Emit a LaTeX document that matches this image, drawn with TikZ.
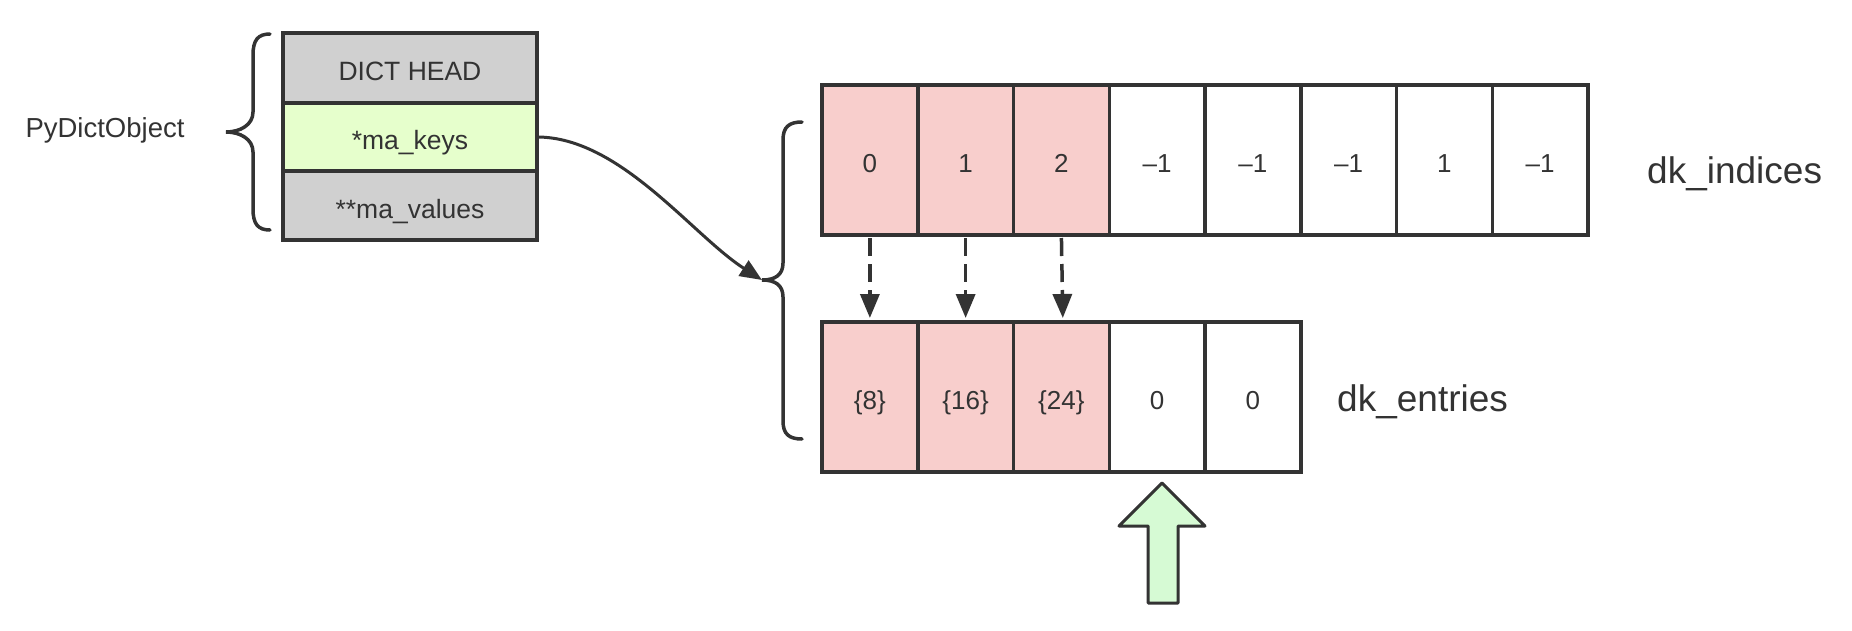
\documentclass[tikz,border=0pt]{standalone}
\usepackage{fontspec}
\setmainfont{Liberation Sans}
\usetikzlibrary{arrows.meta}
\definecolor{ink}{HTML}{333333}
\definecolor{headgray}{HTML}{D0D0D0}
\definecolor{keysgreen}{HTML}{E6FFCC}
\definecolor{cellpink}{HTML}{F8CECC}
\definecolor{upgreen}{HTML}{D6FAD4}
\begin{document}
\begin{tikzpicture}[x=1pt,y=-1pt,
  every node/.style={text=ink},
  rowbox/.style={draw=ink, line width=3.5pt, minimum width=254pt, inner sep=0pt, outer sep=0pt, text height=25pt, text depth=0pt, font=\fontsize{26.5}{30}\selectfont},
  cellbox/.style={draw=ink, line width=3.5pt, minimum width=95.75pt, minimum height=150pt, inner sep=0pt, outer sep=0pt, text height=25pt, text depth=0pt, font=\fontsize{26}{30}\selectfont},
  pinkcell/.style={cellbox, fill=cellpink},
  whitecell/.style={cellbox, fill=white},
  bigtext/.style={font=\fontsize{37}{42}\selectfont, anchor=west, inner sep=0pt},
  bracestyle/.style={draw=ink, line width=3.5pt, line cap=round},
  dasharrow/.style={draw=ink, line width=3.5pt, dash pattern=on 18pt off 8pt, -{Triangle[length=24pt,width=19pt]}, shorten <=3pt, shorten >=4pt},
  curvearrow/.style={draw=ink, line width=3pt, -{Triangle[length=22pt,width=18pt]}},
]
\useasboundingbox (0,0) rectangle (1852,630);

% PyDictObject block
\node[font=\fontsize{27.5}{32}\selectfont, inner sep=0pt] (pylabel) at (105,130.5) {PyDictObject};
\node[rowbox, fill=headgray, minimum height=70pt] (head) at (410,68) {DICT HEAD};
\node[rowbox, fill=keysgreen, minimum height=68pt] (keys) at (410,137) {*ma\_keys};
\node[rowbox, fill=headgray, minimum height=69pt] (vals) at (410,205.5) {**ma\_values};

% left brace
\coordinate (tipL) at (226,132);
\draw[bracestyle] (270,34) .. controls (258,34) and (253,40) .. (253,55) -- (253,112)
  .. controls (253,125) and (240,132) .. (tipL)
  .. controls (240,132) and (253,139) .. (253,152) -- (253,209)
  .. controls (253,224) and (258,230) .. (270,230);

% dk_indices cells
\node[pinkcell]  (i1) at ({822+95.75*0.5},160) {0};
\node[pinkcell]  (i2) at ({822+95.75*1.5},160) {1};
\node[pinkcell]  (i3) at ({822+95.75*2.5},160) {2};
\node[whitecell] (i4) at ({822+95.75*3.5},160) {–1};
\node[whitecell] (i5) at ({822+95.75*4.5},160) {–1};
\node[whitecell] (i6) at ({822+95.75*5.5},160) {–1};
\node[whitecell] (i7) at ({822+95.75*6.5},160) {1};
\node[whitecell] (i8) at ({822+95.75*7.5},160) {–1};
\node[bigtext] (idxlabel) at (1647,174) {dk\_indices};

% dk_entries cells
\node[pinkcell]  (e1) at ({822+95.75*0.5},397) {\{8\}};
\node[pinkcell]  (e2) at ({822+95.75*1.5},397) {\{16\}};
\node[pinkcell]  (e3) at ({822+95.75*2.5},397) {\{24\}};
\node[whitecell] (e4) at ({822+95.75*3.5},397) {0};
\node[whitecell] (e5) at ({822+95.75*4.5},397) {0};
\node[bigtext] (entlabel) at (1337,402) {dk\_entries};

% right brace
\coordinate (tipR) at (762,280);
\draw[bracestyle] (802,122) .. controls (789,122) and (783,127) .. (783,140) -- (783,263)
  .. controls (783,275) and (775,280) .. (tipR)
  .. controls (775,280) and (783,285) .. (783,297) -- (783,421)
  .. controls (783,434) and (789,439) .. (802,439);

% curved pointer from *ma_keys to the brace tip
\draw[curvearrow] (keys.east) .. controls +(83,0) and +(-70,-45) .. (tipR);

% dashed index arrows
\draw[dasharrow] (i1.south) -- (e1.north);
\draw[dasharrow] (i2.south) -- (e2.north);
\draw[dasharrow] (i3.south) -- ([xshift=1.5pt]e3.north);

% green up arrow
\draw[draw=ink, fill=upgreen, line width=3pt, line join=round]
  (1162,483) -- (1205,526) -- (1178,526) -- (1178,603) -- (1148,603) -- (1148,526) -- (1119,526) -- cycle;
\end{tikzpicture}
\end{document}
